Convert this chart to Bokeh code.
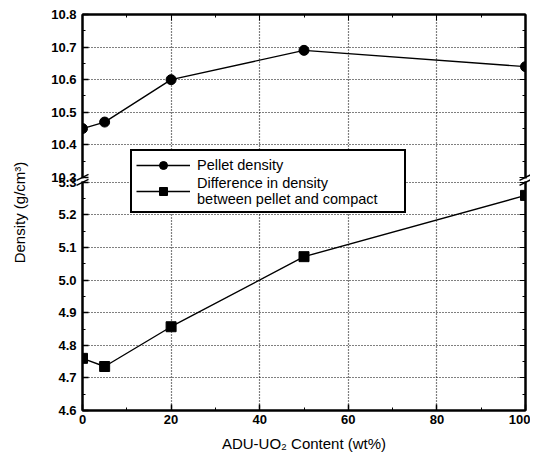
from bokeh.plotting import figure
from bokeh.models import (Range1d, FixedTicker, LinearAxis, Legend, LegendItem)
from bokeh.embed import file_html
from bokeh.resources import INLINE

# ---- data ----
adu_content = [0, 5, 20, 50, 100]
pellet_density = [10.45, 10.47, 10.60, 10.69, 10.64]
density_difference = [4.76, 4.735, 4.857, 5.072, 5.26]

lower_ticks = [4.6, 4.7, 4.8, 4.9, 5.0, 5.1, 5.2, 5.3]
upper_ticks = [10.3, 10.4, 10.5, 10.6, 10.7, 10.8]
x_ticks = [0, 20, 40, 60, 80, 100]
x_minor = [0, 10, 20, 30, 40, 50, 60, 70, 80, 90, 100]

# broken axis: upper segment shifted down onto the same scale
BREAK_LOW = 5.3
BREAK_HIGH = 10.3
GAP = 0.015
SHIFT = BREAK_HIGH - BREAK_LOW - GAP


def up(v):
    return round(v - SHIFT, 6)


pellet_y = [up(v) for v in pellet_density]
upper_pos = [up(v) for v in upper_ticks]

all_ticks = lower_ticks + upper_pos
minor = [round(4.6 + 0.05 * i, 4) for i in range(15)] + \
        [up(10.3 + 0.05 * i) for i in range(11)]
overrides = {}
for t in lower_ticks:
    overrides[t] = f"{t:.1f}"
for t, p_ in zip(upper_ticks, upper_pos):
    overrides[p_] = f"{t:.1f}"

FONT = "Liberation Sans"

p = figure(width=530, height=455, output_backend="svg", toolbar_location=None,
           x_range=Range1d(0, 100), y_range=Range1d(4.6, up(10.8)),
           min_border_left=82, min_border_right=5, min_border_top=14,
           min_border_bottom=45)
p.background_fill_color = "white"
p.border_fill_color = "white"
p.outline_line_color = "black"
p.outline_line_width = 2

yt = FixedTicker(ticks=all_ticks, minor_ticks=minor)
xt = FixedTicker(ticks=x_ticks, minor_ticks=x_minor)

for ax in [p.xaxis[0], p.yaxis[0]]:
    ax.major_tick_in = 6
    ax.major_tick_out = 0
    ax.minor_tick_in = 3
    ax.minor_tick_out = 0
    ax.axis_line_width = 2
    ax.major_tick_line_width = 1.5
    ax.major_label_text_font = FONT
    ax.major_label_text_font_style = "bold"
    ax.major_label_text_font_size = "13px"
    ax.major_label_text_color = "black"
    ax.axis_label_text_font = FONT
    ax.axis_label_text_font_style = "normal"
    ax.axis_label_text_font_size = "15px"
    ax.axis_label_text_color = "black"

p.xaxis.ticker = xt
p.yaxis.ticker = yt
p.yaxis.major_label_overrides = overrides
p.xaxis.axis_label = "ADU-UO₂ Content (wt%)"
p.yaxis.axis_label = "Density (g/cm³)"
p.xaxis.major_label_standoff = 4
p.yaxis.major_label_standoff = 6
p.yaxis.axis_label_standoff = 20
p.xaxis.axis_label_standoff = 8

# mirrored axes (ticks only, empty labels)
for loc, tk, ticks in [("right", yt, all_ticks), ("above", xt, x_ticks)]:
    ax = LinearAxis(ticker=tk, major_tick_in=6, major_tick_out=0,
                    minor_tick_in=3, minor_tick_out=0, axis_line_width=2,
                    major_label_text_font_size="1px", major_label_standoff=0,
                    major_label_overrides={t: "" for t in ticks})
    p.add_layout(ax, loc)

p.xgrid.ticker = xt
p.ygrid.ticker = FixedTicker(ticks=lower_ticks + upper_pos[1:])
for g in [p.xgrid[0], p.ygrid[0]]:
    g.grid_line_color = "black"
    g.grid_line_dash = "1 2"
    g.grid_line_width = 1.2

l1 = p.line(adu_content, pellet_y, line_color="black", line_width=1.4)
s1 = p.scatter(adu_content, pellet_y, marker="circle", size=10,
               fill_color="black", line_color="black")
l2 = p.line(adu_content, density_difference, line_color="black", line_width=1.4)
s2 = p.scatter(adu_content, density_difference, marker="square", size=10,
               fill_color="black", line_color="black")

# break marks on left and right axes
px_x = 100 / 443.0
px_y = (up(10.8) - 4.6) / 396.0
ymid = BREAK_LOW + GAP / 2
for xb in [0, 100]:
    p.segment(x0=[xb], y0=[BREAK_LOW + px_y * 1], x1=[xb], y1=[BREAK_LOW + GAP - px_y],
              line_color="white", line_width=4, level="overlay")
    for off in [-2.5, 2.5]:
        p.segment(x0=[xb - 6 * px_x], y0=[ymid + (off - 3) * px_y],
                  x1=[xb + 6 * px_x], y1=[ymid + (off + 3) * px_y],
                  line_color="black", line_width=1.5, level="overlay")

legend = Legend(items=[
    LegendItem(label="Pellet density", renderers=[l1, s1]),
    LegendItem(label="Difference in density\nbetween pellet and compact", renderers=[l2, s2]),
], location=(48, 197))
legend.padding = 4
legend.spacing = 0
legend.glyph_width = 54
legend.glyph_height = 20
legend.label_standoff = 7
legend.label_width = 203
legend.label_text_font = FONT
legend.label_text_font_size = "14.5px"
legend.label_text_color = "black"
legend.label_text_line_height = 1.0
legend.border_line_color = "black"
legend.border_line_alpha = 1.0
legend.border_line_width = 2
legend.background_fill_color = "white"
legend.background_fill_alpha = 1
legend.margin = 0
p.add_layout(legend, "center")

open("out.html", "w").write(file_html(p, INLINE))
